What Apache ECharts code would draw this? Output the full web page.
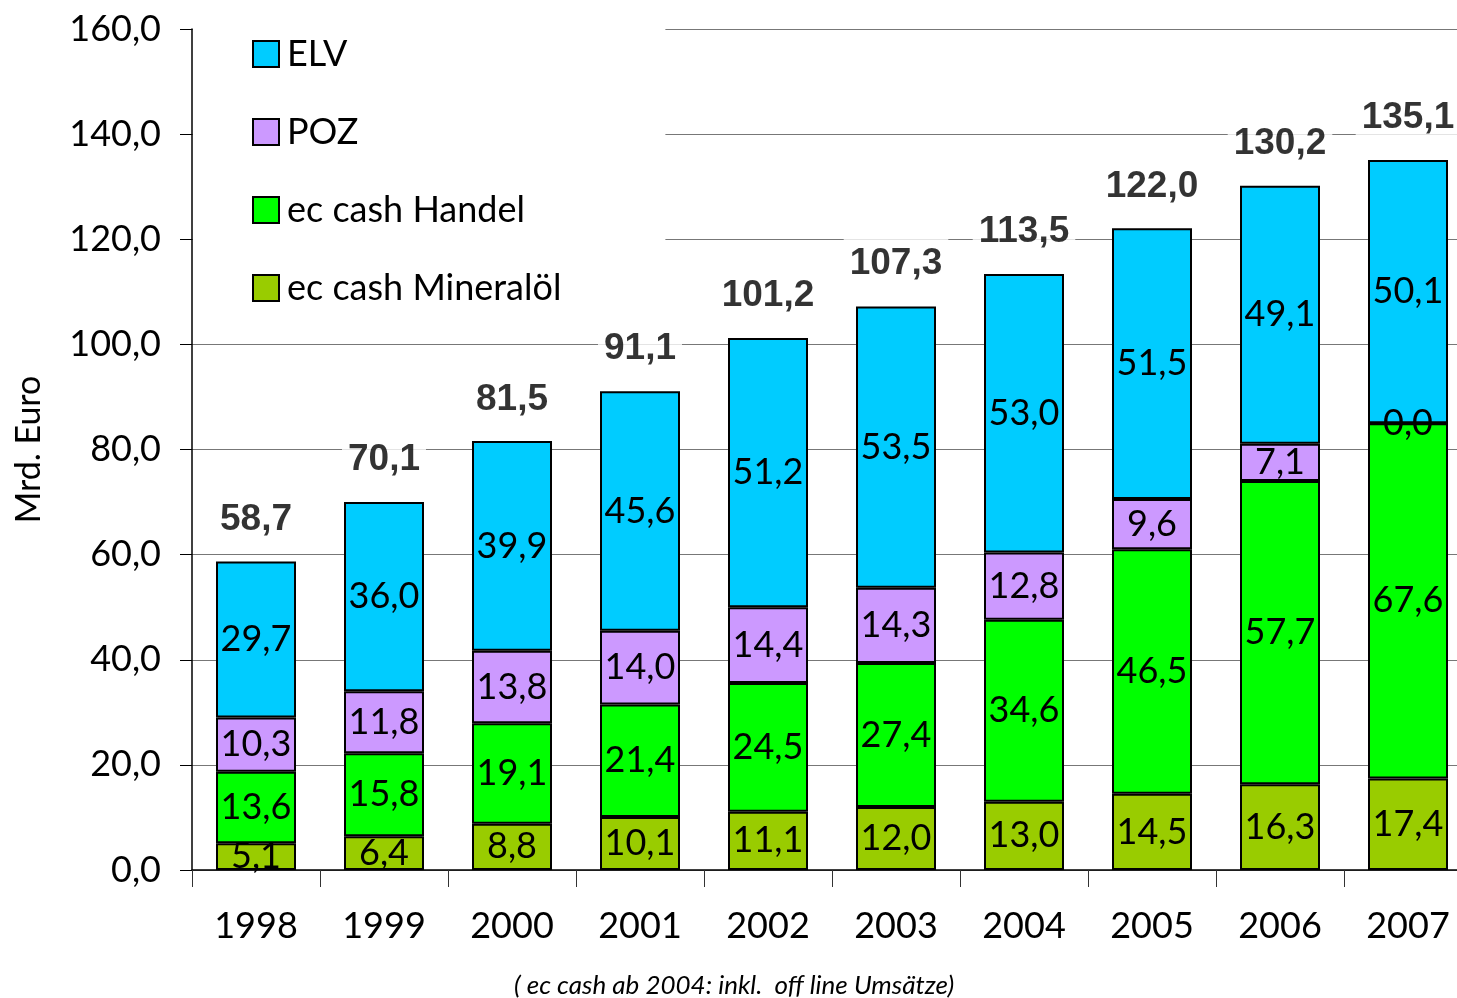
<!DOCTYPE html>
<html>
<head>
<meta charset="utf-8">
<script src="https://cdn.jsdelivr.net/npm/echarts@6/dist/echarts.min.js"></script>
<style>
  html, body { margin: 0; padding: 0; background: #fff; overflow: hidden; }
  #chart { width: 1480px; height: 998px; }
</style>
</head>
<body>
<div id="chart"></div>
<script>
// Daten (Mrd. Euro)
const years = ['1998', '1999', '2000', '2001', '2002', '2003', '2004', '2005', '2006', '2007'];
const mineraloel = [5.1, 6.4, 8.8, 10.1, 11.1, 12.0, 13.0, 14.5, 16.3, 17.4];
const handel = [13.6, 15.8, 19.1, 21.4, 24.5, 27.4, 34.6, 46.5, 57.7, 67.6];
const poz = [10.3, 11.8, 13.8, 14.0, 14.4, 14.3, 12.8, 9.6, 7.1, 0.0];
const elv = [29.7, 36.0, 39.9, 45.6, 51.2, 53.5, 53.0, 51.5, 49.1, 50.1];
const totals = [58.7, 70.1, 81.5, 91.1, 101.2, 107.3, 113.5, 122.0, 130.2, 135.1];

const FONT = 'Lato';
const fmt = v => Number(v).toFixed(1).replace('.', ',');

function stackSeries(name, data, color) {
    return {
        name: name,
        type: 'bar',
        stack: 'summe',
        barWidth: 80,
        data: data,
        itemStyle: {color: color, borderColor: '#000', borderWidth: 2},
        label: {
            show: true,
            position: 'inside',
            color: '#000',
            fontFamily: FONT,
            fontSize: 36,
            formatter: p => fmt(p.value)
        }
    };
}

const chart = echarts.init(document.getElementById('chart'));
chart.setOption({
    backgroundColor: '#fff',
    animation: false,
    title: {
        text: '( ec cash ab 2004: inkl.  off line Umsätze)',
        left: 509,
        top: 968,
        textStyle: {fontFamily: FONT, fontStyle: 'italic', fontWeight: 'normal', fontSize: 26, color: '#000'}
    },
    legend: {
        orient: 'vertical',
        left: 193,
        top: 0,
        padding: [36, 104, 15, 59],
        backgroundColor: '#fff',
        itemWidth: 26,
        itemHeight: 26,
        itemGap: 42,
        icon: 'rect',
        itemStyle: {borderColor: '#000', borderWidth: 2},
        textStyle: {fontFamily: FONT, fontSize: 36, color: '#000', padding: [0, 0, 0, 3]},
        data: ['ELV', 'POZ', 'ec cash Handel', 'ec cash Mineralöl']
    },
    grid: {left: 192, top: 29, width: 1280, height: 841},
    xAxis: {
        type: 'category',
        data: years,
        axisLine: {lineStyle: {color: '#000', width: 1.5}},
        axisTick: {show: true, length: 17, lineStyle: {color: '#333'}},
        axisLabel: {fontFamily: FONT, fontSize: 36, color: '#000', margin: 38}
    },
    yAxis: {
        type: 'value',
        min: 0,
        max: 160,
        interval: 20,
        name: 'Mrd. Euro',
        nameLocation: 'middle',
        nameRotate: 90,
        nameGap: 146,
        nameTextStyle: {fontFamily: FONT, fontSize: 34, color: '#000'},
        axisLine: {show: true, lineStyle: {color: '#000', width: 1.5}},
        axisTick: {show: true, length: 12, lineStyle: {color: '#000'}},
        axisLabel: {fontFamily: FONT, fontSize: 36, color: '#000', margin: 31, formatter: v => fmt(v)},
        splitLine: {lineStyle: {color: '#777', width: 1}}
    },
    series: [
        stackSeries('ec cash Mineralöl', mineraloel, '#99cc00'),
        stackSeries('ec cash Handel', handel, '#00ff00'),
        stackSeries('POZ', poz, '#cc99ff'),
        stackSeries('ELV', elv, '#00ccff'),
        {
            name: 'Summe',
            type: 'scatter',
            data: totals,
            symbolSize: 1,
            itemStyle: {color: 'rgba(0,0,0,0)'},
            z: 5,
            label: {
                show: true,
                position: 'top',
                distance: 17,
                color: '#000',
                fontFamily: 'Liberation Sans',
                fontWeight: 'bold',
                fontSize: 37,
                backgroundColor: '#fff',
                padding: [16, 6, 6, 6],
                formatter: p => fmt(p.value)
            }
        }
    ]
});
</script>
</body>
</html>
